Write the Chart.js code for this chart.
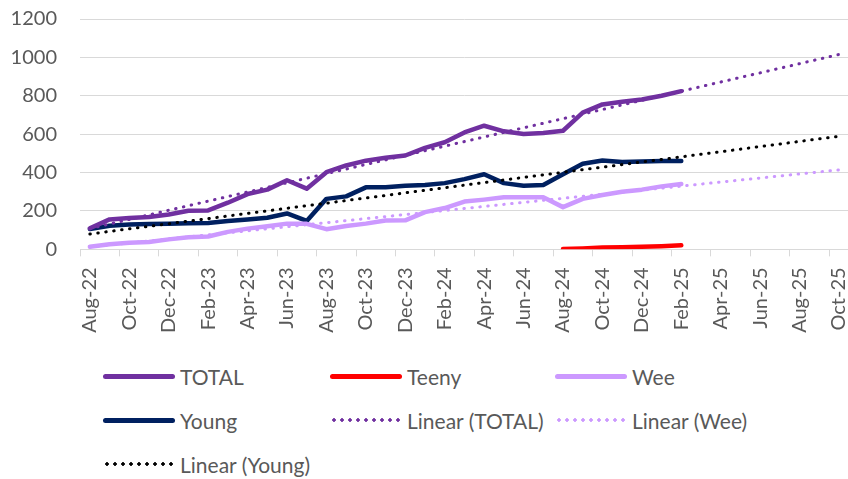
<!DOCTYPE html>
<html>
<head>
<meta charset="utf-8">
<title>Membership trend</title>
<script src="https://cdn.jsdelivr.net/npm/chart.js"></script>
<style>
    html, body { margin: 0; padding: 0; background: #fff; overflow: hidden; }
    body {
        width: 848px;
        height: 479px;
        position: relative;
        font-family: Lato, 'Open Sans', sans-serif;
        color: #595959;
    }
    #wrap { position: absolute; left: 0; top: -16px; width: 874px; height: 360px; }
    .legend {
        position: absolute;
        left: 103px;
        top: 354px;
        display: grid;
        grid-template-columns: 227px 225px 225px;
        grid-auto-rows: 44px;
        font-size: 21px;
    }
    .item { display: flex; align-items: center; white-space: nowrap; }
    .swatch { width: 72px; height: 5px; border-radius: 3px; margin-right: 5px; flex: none; }
    .swatch.dots { height: 4px; border-radius: 0; background-size: 8px 4px; background-repeat: repeat-x; background-color: transparent !important; }
</style>
</head>
<body>
<div id="wrap"><canvas id="chart"></canvas></div>
<div class="legend" id="legend"></div>
<script>
    const months = [
        'Aug-22', 'Sep-22', 'Oct-22', 'Nov-22', 'Dec-22',
        'Jan-23', 'Feb-23', 'Mar-23', 'Apr-23', 'May-23', 'Jun-23', 'Jul-23', 'Aug-23', 'Sep-23', 'Oct-23', 'Nov-23', 'Dec-23',
        'Jan-24', 'Feb-24', 'Mar-24', 'Apr-24', 'May-24', 'Jun-24', 'Jul-24', 'Aug-24', 'Sep-24', 'Oct-24', 'Nov-24', 'Dec-24',
        'Jan-25', 'Feb-25', 'Mar-25', 'Apr-25', 'May-25', 'Jun-25', 'Jul-25', 'Aug-25', 'Sep-25', 'Oct-25'
    ];
    const yTicks = [0, 200, 400, 600, 800, 1000, 1200];

    const total = [110, 156, 163, 168, 182, 201, 203, 243, 288, 311, 360, 316, 402, 437, 462, 477,
                   489, 529, 558, 609, 644, 615, 601, 606, 618, 712, 755, 769, 781, 800, 824];
    // Teeny only starts in Aug-24
    const teeny = Array(24).fill(null).concat([2, 5, 9, 11, 13, 16, 21]);
    const wee = [14, 27, 34, 38, 52, 63, 67, 91, 108, 120, 134, 133, 105, 122, 134, 150,
                 151, 194, 215, 249, 259, 271, 271, 271, 220, 263, 283, 300, 311, 328, 340];
    const young = [106, 123, 129, 132, 134, 136, 137, 148, 156, 165, 187, 148, 263, 276, 323, 323,
                   331, 335, 345, 366, 391, 345, 331, 335, 391, 446, 463, 455, 458, 460, 460];

    // trendline ends: [Aug-22, Oct-25]
    const trendTotal = [108, 1015];
    const trendWee = [12, 414];
    const trendYoung = [80, 589];

    const PURPLE = '#7030a0', RED = '#ff0000', LILAC = '#cc99ff', NAVY = '#002060', BLACK = '#000000';
    const FONT = { family: "Lato, 'Open Sans', sans-serif", size: 20 };

    function trend(ends) {
        const d = Array(months.length).fill(null);
        d[0] = ends[0];
        d[months.length - 1] = ends[1];
        return d;
    }

    function solid(label, data, color) {
        return {
            label, data,
            borderColor: color, backgroundColor: color,
            borderWidth: 4.5, borderCapStyle: 'round', borderJoinStyle: 'round',
            pointRadius: 0, tension: 0, fill: false, order: 2
        };
    }

    function dotted(label, ends, color) {
        return {
            label, data: trend(ends), spanGaps: true,
            borderColor: color, backgroundColor: color,
            borderWidth: 3, borderDash: [0.5, 7.5], borderCapStyle: 'round',
            pointRadius: 0, tension: 0, fill: false, order: 1, dotted: true
        };
    }

    const datasets = [
        solid('TOTAL', total, PURPLE),
        solid('Teeny', teeny, RED),
        solid('Wee', wee, LILAC),
        solid('Young', young, NAVY),
        dotted('Linear (TOTAL)', trendTotal, PURPLE),
        dotted('Linear (Wee)', trendWee, LILAC),
        dotted('Linear (Young)', trendYoung, BLACK)
    ];

    new Chart(document.getElementById('chart'), {
        type: 'line',
        data: { labels: months, datasets },
        options: {
            responsive: true,
            maintainAspectRatio: false,
            animation: false,
            layout: { padding: { top: 6, left: 10, right: 0, bottom: 0 } },
            plugins: { legend: { display: false }, tooltip: { enabled: false } },
            scales: {
                x: {
                    offset: true,
                    grid: {
                        offset: true,
                        drawOnChartArea: false,
                        tickLength: 7,
                        color: ctx => ctx.index % 2 === 0 ? '#d9d9d9' : 'rgba(0,0,0,0)'
                    },
                    border: { color: '#d9d9d9', width: 1 },
                    ticks: {
                        autoSkip: false,
                        minRotation: 90,
                        maxRotation: 90,
                        padding: 11,
                        color: '#595959',
                        font: FONT,
                        callback: (v, i) => i % 2 === 0 ? months[i] : ''
                    }
                },
                y: {
                    min: 0,
                    max: 1200,
                    afterBuildTicks: s => { s.ticks = yTicks.map(v => ({ value: v })); },
                    afterFit: s => { s.width = 70; },
                    grid: { color: '#d9d9d9', drawTicks: false },
                    border: { display: false },
                    ticks: { padding: 23, color: '#595959', font: FONT, callback: v => String(v) }
                }
            }
        }
    });

    // legend laid out in three columns like the original
    const legend = document.getElementById('legend');
    datasets.forEach(ds => {
        const item = document.createElement('div');
        item.className = 'item';
        const sw = document.createElement('span');
        sw.className = 'swatch' + (ds.dotted ? ' dots' : '');
        if (ds.dotted) {
            sw.style.backgroundImage = `radial-gradient(circle, ${ds.borderColor} 1.5px, transparent 2px)`;
        } else {
            sw.style.backgroundColor = ds.borderColor;
        }
        const txt = document.createElement('span');
        txt.textContent = ds.label;
        item.appendChild(sw);
        item.appendChild(txt);
        legend.appendChild(item);
    });
</script>
</body>
</html>
